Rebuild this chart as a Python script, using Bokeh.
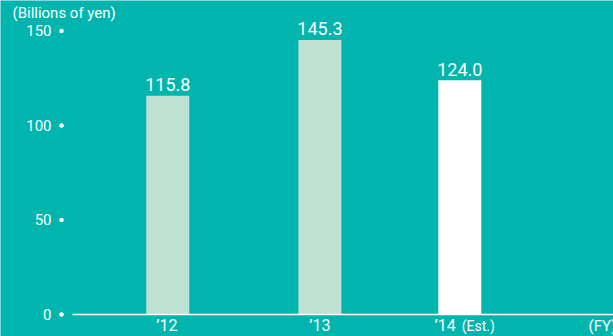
from bokeh.plotting import figure
from bokeh.models import Range1d, ColumnDataSource
from bokeh.core.properties import value
from bokeh.embed import file_html
from bokeh.resources import INLINE

# ---- data ----
categories = ["\u201912", "\u201913", "\u201914"]
values = [115.8, 145.3, 124.0]
value_labels = ["115.8", "145.3", "124.0"]
bar_colors = ["#bfe1d4", "#bfe1d4", "#ffffff"]
y_ticks = [0, 50, 100, 150]
y_tick_labels = ["0", "50", "100", "150"]
unit_label = "(Billions of yen)"
x_unit_label = "(FY)"
est_label = "(Est.)"

# ---- layout ----
BG = "#00b5ad"
FONT = value("Roboto")
W, H = 613, 336
px_per_unit = 1.89
base_px = 314
y_top = base_px / px_per_unit
y_bot = -(H - base_px) / px_per_unit
centers = [167.3, 319.4, 459.3]
bar_w = 43
SH = -6  # baseline correction for svg text

p = figure(width=W, height=H, output_backend="svg", toolbar_location=None,
           x_range=Range1d(0, W), y_range=Range1d(y_bot, y_top),
           x_axis_type=None, y_axis_type=None, min_border=0)
p.background_fill_color = BG
p.border_fill_color = BG
p.outline_line_color = None
p.xgrid.visible = False
p.ygrid.visible = False

src = ColumnDataSource(dict(x=centers, top=values, color=bar_colors,
                            label=value_labels, cat=categories))
p.vbar(x="x", top="top", bottom=0, width=bar_w, color="color", line_color=None, source=src)

# baseline
p.line(x=[72, W], y=[0, 0], line_color="white", line_width=1.5)

# value labels
p.text(x="x", y="top", text="label", source=src, text_align="center",
       text_baseline="alphabetic", y_offset=-5 + SH, text_color="white",
       text_font=FONT, text_font_size="18px")

# category labels
cat_x = [centers[0] - 1, centers[1], centers[2] - 4]
cat_align = ["center", "center", "right"]
p.text(x=cat_x, y=[0, 0, 0], text=categories, text_align=cat_align,
       text_baseline="alphabetic", y_offset=17 + SH, text_color="white",
       text_font=FONT, text_font_size="16px")
p.text(x=[centers[2] + 2], y=[0], text=[est_label], text_align="left",
       text_baseline="alphabetic", y_offset=17 + SH, text_color="white",
       text_font=FONT, text_font_size="14px")
p.text(x=[588], y=[0], text=[x_unit_label], text_align="left",
       text_baseline="alphabetic", y_offset=17 + SH, text_color="white",
       text_font=FONT, text_font_size="15px")

# y tick labels and dots
p.text(x=[51] * len(y_ticks), y=y_ticks, text=y_tick_labels, text_align="right",
       text_baseline="alphabetic", y_offset=5.5 + SH, text_color="white",
       text_font=FONT, text_font_size="15px")
p.scatter(x=[61] * len(y_ticks), y=y_ticks, size=4.5, color="white", line_color=None)

# unit label
p.text(x=[12], y=[y_top], text=[unit_label], text_align="left",
       text_baseline="alphabetic", y_offset=18 + SH, text_color="white",
       text_font=FONT, text_font_size="15px")

open("out.html", "w").write(file_html(p, INLINE))
